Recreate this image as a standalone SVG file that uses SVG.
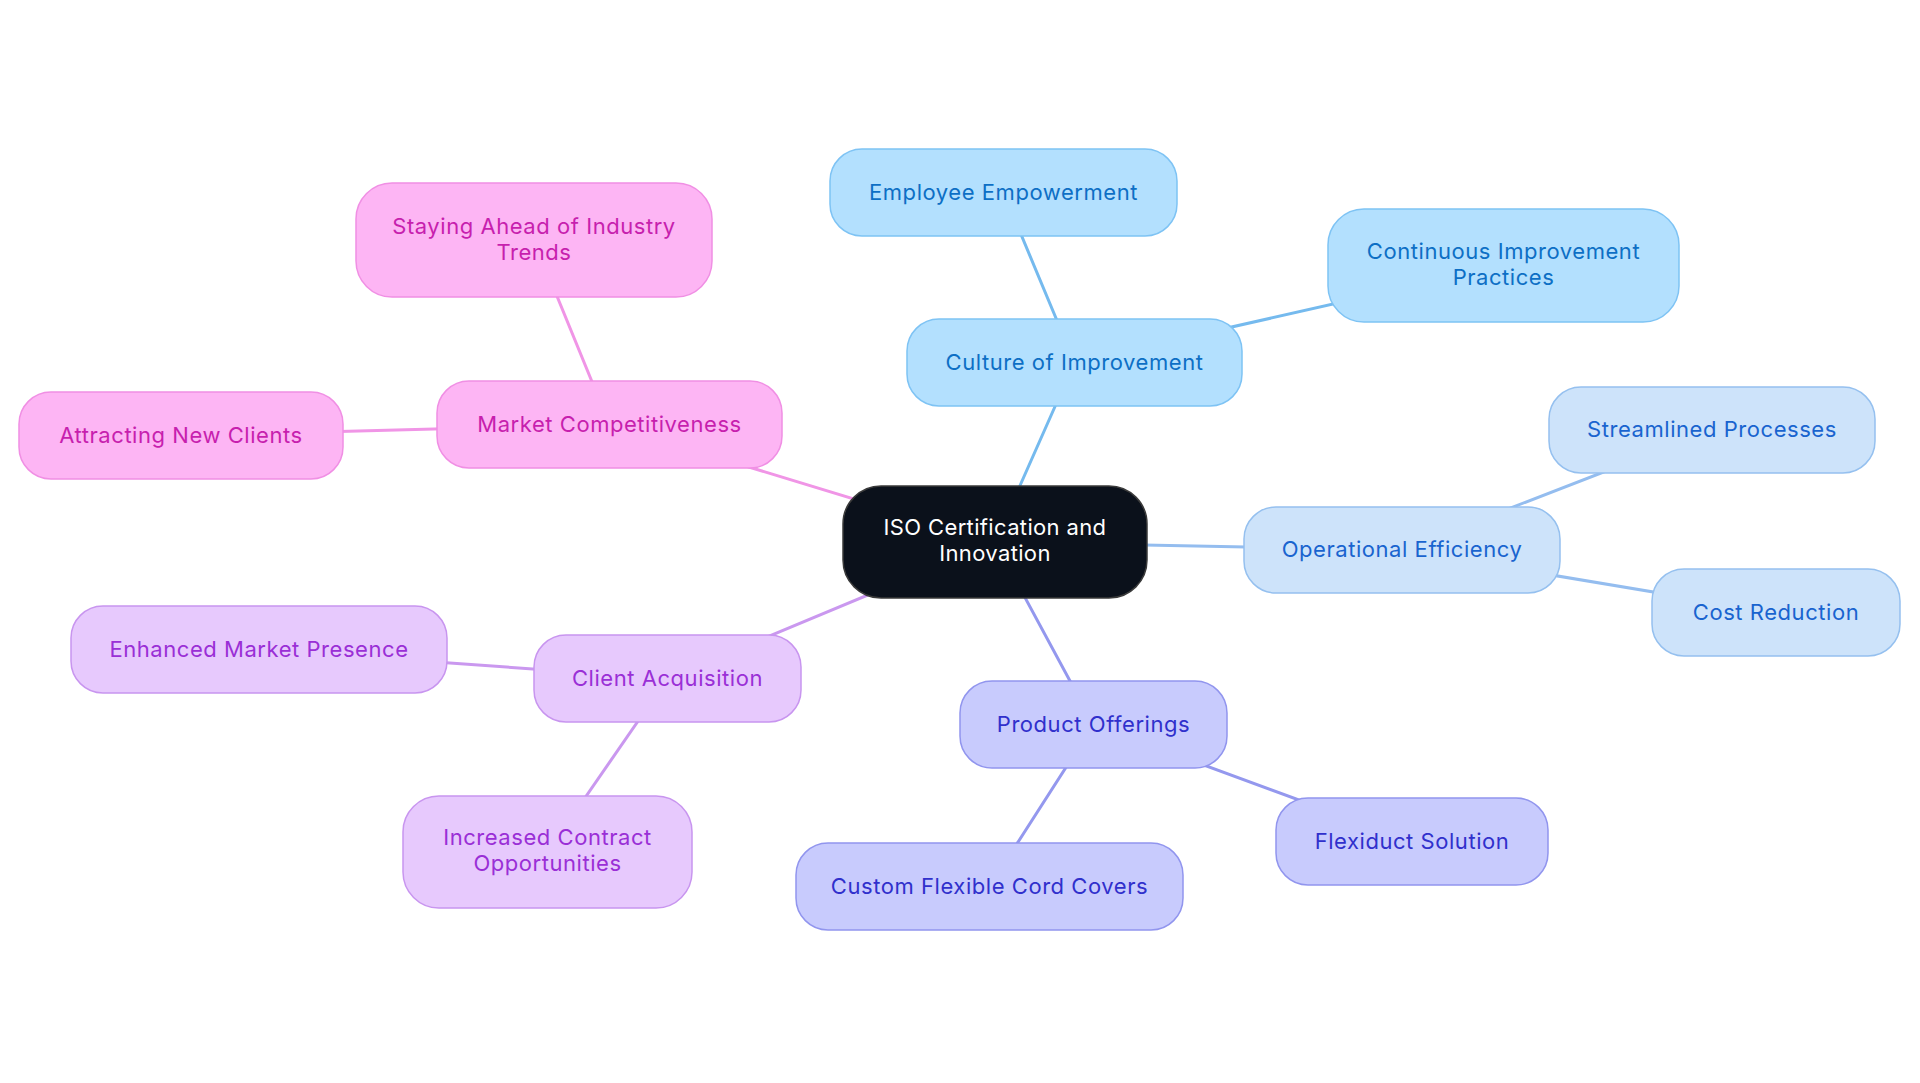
<svg xmlns="http://www.w3.org/2000/svg" width="1920" height="1083" viewBox="0 0 1920 1083">
<style>
text{font-family:Inter,"Noto Sans","Liberation Sans",sans-serif;font-size:22px;letter-spacing:0.55px;text-anchor:middle}
.edge{stroke-width:3;fill:none;stroke-linecap:round}
.node rect{stroke-width:1.5}
.pk rect{fill:#fdb5f4;stroke:#f08fe4}.pk text{fill:#c71fae}
.b1 rect{fill:#b3e0fe;stroke:#7ec3f4}.b1 text{fill:#0d6fc5}
.b2 rect{fill:#cde3fa;stroke:#95c0ef}.b2 text{fill:#1964cf}
.ind rect{fill:#c8cbfd;stroke:#9195ee}.ind text{fill:#3030cc}
.pu rect{fill:#e7c9fd;stroke:#c895ef}.pu text{fill:#9a2fd6}
.root rect{fill:#0b111b;stroke:#3a3a3a}.root text{fill:#ffffff;letter-spacing:0.35px}
</style>
<rect width="1920" height="1083" fill="#ffffff"/>
<g id="connectors">
<line class="edge" stroke="#f095e6" x1="995" y1="542" x2="609.5" y2="424.5"/>
<line class="edge" stroke="#f095e6" x1="609.5" y1="424.5" x2="534" y2="240"/>
<line class="edge" stroke="#f095e6" x1="609.5" y1="424.5" x2="181" y2="435.5"/>
<line class="edge" stroke="#75baee" x1="995" y1="542" x2="1074.5" y2="362.5"/>
<line class="edge" stroke="#75baee" x1="1074.5" y1="362.5" x2="1003.5" y2="192.5"/>
<line class="edge" stroke="#75baee" x1="1074.5" y1="362.5" x2="1503.5" y2="265.5"/>
<line class="edge" stroke="#94bdef" x1="995" y1="542" x2="1402" y2="550"/>
<line class="edge" stroke="#94bdef" x1="1402" y1="550" x2="1712" y2="430"/>
<line class="edge" stroke="#94bdef" x1="1402" y1="550" x2="1776" y2="612.5"/>
<line class="edge" stroke="#9498ee" x1="995" y1="542" x2="1093.5" y2="724.5"/>
<line class="edge" stroke="#9498ee" x1="1093.5" y1="724.5" x2="1412" y2="841.5"/>
<line class="edge" stroke="#9498ee" x1="1093.5" y1="724.5" x2="989.5" y2="886.5"/>
<line class="edge" stroke="#ca98ef" x1="995" y1="542" x2="667.5" y2="678.5"/>
<line class="edge" stroke="#ca98ef" x1="667.5" y1="678.5" x2="259" y2="649.5"/>
<line class="edge" stroke="#ca98ef" x1="667.5" y1="678.5" x2="547.5" y2="852"/>
</g>
<g id="root" class="node root"><rect x="843" y="486" width="304" height="112" rx="38"/><text x="995" y="535">ISO Certification and</text><text x="995" y="561">Innovation</text></g>
<g id="culture" class="node b1"><rect x="907" y="319" width="335" height="87" rx="32"/><text x="1074.5" y="369.5">Culture of Improvement</text></g>
<g id="employee" class="node b1"><rect x="830" y="149" width="347" height="87" rx="32"/><text x="1003.5" y="199.5">Employee Empowerment</text></g>
<g id="continuous" class="node b1"><rect x="1328" y="209" width="351" height="113" rx="36"/><text x="1503.5" y="259">Continuous Improvement</text><text x="1503.5" y="284.5">Practices</text></g>
<g id="operational" class="node b2"><rect x="1244" y="507" width="316" height="86" rx="32"/><text x="1402" y="557">Operational Efficiency</text></g>
<g id="streamlined" class="node b2"><rect x="1549" y="387" width="326" height="86" rx="32"/><text x="1712" y="437">Streamlined Processes</text></g>
<g id="cost" class="node b2"><rect x="1652" y="569" width="248" height="87" rx="32"/><text x="1776" y="619.5">Cost Reduction</text></g>
<g id="product" class="node ind"><rect x="960" y="681" width="267" height="87" rx="32"/><text x="1093.5" y="731.5">Product Offerings</text></g>
<g id="flexiduct" class="node ind"><rect x="1276" y="798" width="272" height="87" rx="32"/><text x="1412" y="848.5">Flexiduct Solution</text></g>
<g id="custom" class="node ind"><rect x="796" y="843" width="387" height="87" rx="32"/><text x="989.5" y="893.5">Custom Flexible Cord Covers</text></g>
<g id="client" class="node pu"><rect x="534" y="635" width="267" height="87" rx="32"/><text x="667.5" y="685.5">Client Acquisition</text></g>
<g id="enhanced" class="node pu"><rect x="71" y="606" width="376" height="87" rx="32"/><text x="259" y="656.5">Enhanced Market Presence</text></g>
<g id="increased" class="node pu"><rect x="403" y="796" width="289" height="112" rx="36"/><text x="547.5" y="845">Increased Contract</text><text x="547.5" y="870.5">Opportunities</text></g>
<g id="market" class="node pk"><rect x="437" y="381" width="345" height="87" rx="32"/><text x="609.5" y="431.5">Market Competitiveness</text></g>
<g id="staying" class="node pk"><rect x="356" y="183" width="356" height="114" rx="36"/><text x="534" y="234">Staying Ahead of Industry</text><text x="534" y="259.5">Trends</text></g>
<g id="attracting" class="node pk"><rect x="19" y="392" width="324" height="87" rx="32"/><text x="181" y="442.5">Attracting New Clients</text></g>
</svg>
